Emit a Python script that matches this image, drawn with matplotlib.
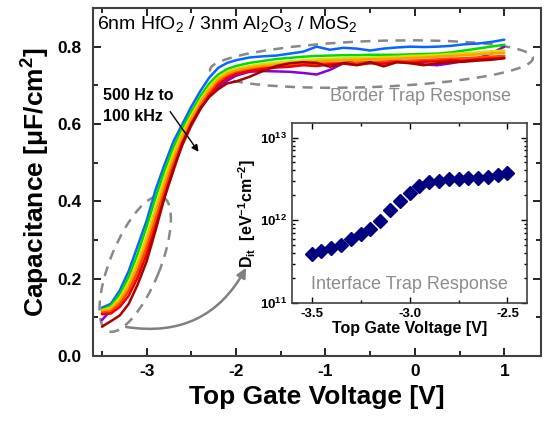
import numpy as np
import matplotlib
matplotlib.use('Agg')
import matplotlib.pyplot as plt
from matplotlib.patches import Ellipse, FancyArrowPatch
from matplotlib.transforms import ScaledTranslation
from matplotlib.ticker import MultipleLocator, FixedLocator, FixedFormatter, LogLocator, NullFormatter

plt.rcParams['font.family'] = ['Liberation Sans', 'DejaVu Sans']
plt.rcParams['font.weight'] = 'bold'
plt.rcParams['axes.labelweight'] = 'bold'
plt.rcParams['axes.unicode_minus'] = False
plt.rcParams['mathtext.fontset'] = 'custom'
plt.rcParams['mathtext.rm'] = 'Liberation Sans:weight=normal'
plt.rcParams['mathtext.bf'] = 'Liberation Sans:bold'
plt.rcParams['mathtext.it'] = 'Liberation Sans:italic'

# gate voltage grid of the C-V sweeps
voltage = [-3.5, -3.4, -3.3, -3.2, -3.1, -3.0, -2.9, -2.8, -2.7, -2.6, -2.5, -2.4,
           -2.3, -2.2, -2.1, -2.0, -1.85, -1.7, -1.55, -1.4, -1.25, -1.1, -0.95, -0.8,
           -0.65, -0.5, -0.35, -0.2, -0.05, 0.1, 0.25, 0.4, 0.55, 0.7, 0.85, 1.0]

# capacitance per frequency (500 Hz -> 100 kHz)
c_purple = [0.093, 0.118, 0.14, 0.17, 0.225, 0.29, 0.36, 0.43, 0.50, 0.555, 0.60, 0.64,
            0.672, 0.695, 0.712, 0.725, 0.735, 0.737, 0.736, 0.735, 0.732, 0.728, 0.74, 0.757,
            0.768, 0.77, 0.768, 0.765, 0.76, 0.754, 0.752, 0.757, 0.763, 0.77, 0.782, 0.80]
c_blue = [0.125, 0.135, 0.17, 0.22, 0.285, 0.35, 0.43, 0.495, 0.555, 0.60, 0.645, 0.685,
          0.72, 0.745, 0.758, 0.765, 0.772, 0.775, 0.777, 0.782, 0.787, 0.80, 0.792, 0.797,
          0.795, 0.79, 0.795, 0.798, 0.80, 0.799, 0.80, 0.802, 0.806, 0.808, 0.812, 0.818]
c_green = [0.12, 0.13, 0.16, 0.205, 0.265, 0.335, 0.41, 0.48, 0.54, 0.59, 0.632, 0.672,
           0.705, 0.728, 0.742, 0.75, 0.758, 0.763, 0.768, 0.771, 0.774, 0.776, 0.777, 0.778,
           0.778, 0.779, 0.779, 0.779, 0.78, 0.781, 0.782, 0.785, 0.79, 0.795, 0.80, 0.805]
c_yellow = [0.118, 0.125, 0.15, 0.19, 0.245, 0.31, 0.385, 0.46, 0.525, 0.578, 0.622, 0.662,
            0.695, 0.72, 0.735, 0.743, 0.75, 0.755, 0.759, 0.762, 0.765, 0.767, 0.769, 0.77,
            0.771, 0.772, 0.773, 0.774, 0.776, 0.777, 0.779, 0.781, 0.783, 0.785, 0.788, 0.79]
c_orange = [0.116, 0.12, 0.142, 0.18, 0.232, 0.295, 0.37, 0.445, 0.512, 0.568, 0.614, 0.655,
            0.688, 0.714, 0.73, 0.738, 0.745, 0.75, 0.754, 0.757, 0.76, 0.762, 0.764, 0.765,
            0.766, 0.767, 0.768, 0.769, 0.771, 0.772, 0.774, 0.776, 0.778, 0.78, 0.782, 0.784]
c_orangered = [0.112, 0.115, 0.135, 0.168, 0.218, 0.28, 0.352, 0.428, 0.498, 0.556, 0.604, 0.646,
               0.68, 0.707, 0.724, 0.733, 0.74, 0.745, 0.748, 0.751, 0.754, 0.756, 0.757, 0.758,
               0.759, 0.76, 0.761, 0.762, 0.764, 0.765, 0.767, 0.769, 0.77, 0.772, 0.774, 0.776]
c_red = [0.108, 0.11, 0.127, 0.156, 0.203, 0.263, 0.335, 0.412, 0.485, 0.546, 0.596, 0.638,
         0.673, 0.701, 0.719, 0.729, 0.737, 0.742, 0.746, 0.748, 0.752, 0.75, 0.754, 0.756,
         0.753, 0.757, 0.756, 0.76, 0.758, 0.761, 0.762, 0.765, 0.764, 0.767, 0.769, 0.771]
c_darkred = [0.076, 0.09, 0.105, 0.135, 0.185, 0.245, 0.325, 0.41, 0.48, 0.55, 0.60, 0.64,
             0.67, 0.69, 0.705, 0.71, 0.722, 0.737, 0.75, 0.757, 0.76, 0.758, 0.748, 0.758,
             0.752, 0.76, 0.749, 0.76, 0.757, 0.752, 0.757, 0.76, 0.761, 0.764, 0.766, 0.77]

curves = [c_purple, c_blue, c_green, c_yellow, c_orange, c_orangered, c_red, c_darkred]
colors = ['#8a00d4', '#0a64ff', '#00dc00', '#d8e000', '#ffa000', '#ff4a00', '#f00000', '#a80000']

# inset: interface trap density
dit_v = [-3.5, -3.45, -3.4, -3.35, -3.3, -3.25, -3.2, -3.15, -3.1, -3.05, -3.0,
         -2.95, -2.9, -2.85, -2.8, -2.75, -2.7, -2.65, -2.6, -2.55, -2.5]
dit = [3.96e11, 4.2e11, 4.6e11, 5.0e11, 6.0e11, 6.9e11, 7.9e11, 9.8e11, 1.34e12, 1.72e12, 2.15e12,
       2.57e12, 2.9e12, 3.0e12, 3.14e12, 3.19e12, 3.22e12, 3.28e12, 3.37e12, 3.5e12, 3.74e12]

fig = plt.figure(figsize=(5.49, 4.21), dpi=100)
ax = fig.add_axes([0.1694, 0.1544, 0.816, 0.8266])

for c, col in zip(curves, colors):
    ax.plot(voltage, c, color=col, lw=1.8, solid_capstyle='round')

ax.set_xlim(-3.6, 1.41)
ax.set_ylim(0, 0.9)
ax.xaxis.set_major_locator(MultipleLocator(1))
ax.xaxis.set_minor_locator(MultipleLocator(0.5))
ax.yaxis.set_major_locator(MultipleLocator(0.2))
ax.yaxis.set_minor_locator(MultipleLocator(0.1))
ax.yaxis.set_major_formatter(plt.FormatStrFormatter('%.1f'))
ax.tick_params(which='both', direction='in', top=True, right=True, labelsize=12.5, width=1.2)
ax.tick_params(which='major', length=6)
ax.tick_params(which='minor', length=3.5)
ax.tick_params(axis='y', pad=8)
ax.tick_params(axis='x', pad=6)
for sp in ax.spines.values():
    sp.set_linewidth(1.5)
    sp.set_color('#404040')
ax.set_xlabel('Top Gate Voltage [V]', fontsize=19, fontweight='bold', labelpad=4)
ax.set_ylabel('Capacitance [μF/cm$^\\mathbf{2}$]', fontsize=19, fontweight='bold', labelpad=4)

ax.text(0.009, 0.939, '6nm HfO$_2$ / 3nm Al$_2$O$_3$ / MoS$_2$', transform=ax.transAxes,
        fontsize=14, fontweight='normal', va='baseline', ha='left')
ax.text(-3.486, 0.662, '500 Hz to', fontsize=11.5, va='baseline', ha='left')
ax.text(-3.486, 0.608, '100 kHz', fontsize=11.5, va='baseline', ha='left')
ax.annotate('', xy=(-2.42, 0.528), xytext=(-2.737, 0.632),
            arrowprops=dict(arrowstyle='-|>', color='k', lw=1.0, mutation_scale=10,
                            shrinkA=0, shrinkB=0))
ax.text(0.06, 0.672, 'Border Trap Response', fontsize=13, fontweight='normal',
        color='#8c8c8c', va='center', ha='center')

# dashed ellipses (sized in inches, centred in data coords)
e1 = Ellipse((0, 0), 3.23, 0.46, angle=2.1, fill=False, ec='#888888', lw=1.8, ls=(0, (4, 3)),
             transform=fig.dpi_scale_trans + ScaledTranslation(-0.486, 0.755, ax.transData))
e2 = Ellipse((0, 0), 1.45, 0.5, angle=68, fill=False, ec='#888888', lw=1.8, ls=(0, (4, 3)),
             transform=fig.dpi_scale_trans + ScaledTranslation(-3.128, 0.238, ax.transData))
e1.set_clip_on(False)
e2.set_clip_on(False)
ax.add_patch(e1)
ax.add_patch(e2)

arr = FancyArrowPatch((-3.229, 0.075), (-1.888, 0.228), connectionstyle='arc3,rad=0.35',
                      arrowstyle='-|>', mutation_scale=14, color='#808080', lw=1.8,
                      shrinkA=0, shrinkB=0)
ax.add_patch(arr)

# inset
ins = fig.add_axes([0.532, 0.2803, 0.428, 0.4276])
ins.semilogy(dit_v, dit, ls='none', marker='D', ms=7, color='#000080')
ins.set_xlim(-3.6, -2.4)
ins.set_ylim(1e11, 1.5e13)
ins.xaxis.set_major_locator(FixedLocator([-3.5, -3.0, -2.5]))
ins.xaxis.set_major_formatter(plt.FormatStrFormatter('%.1f'))
ins.xaxis.set_minor_locator(MultipleLocator(0.25))
ins.yaxis.set_major_locator(FixedLocator([1e11, 1e12, 1e13]))
ins.yaxis.set_major_formatter(FixedFormatter([r'$\mathbf{10^{11}}$', r'$\mathbf{10^{12}}$',
                                              r'$\mathbf{10^{13}}$']))
ins.yaxis.set_minor_locator(LogLocator(base=10, subs=np.arange(2, 10)))
ins.yaxis.set_minor_formatter(NullFormatter())
ins.tick_params(which='both', direction='in', top=True, right=True, labelsize=9.5, width=1)
ins.tick_params(which='major', length=4)
ins.tick_params(which='minor', length=2)
for sp in ins.spines.values():
    sp.set_linewidth(1.2)
    sp.set_color('#404040')
ins.set_xlabel('Top Gate Voltage [V]', fontsize=11.5, fontweight='bold', labelpad=1)
ins.set_ylabel(r'D$_{\mathbf{it}}$  [eV$^{\mathbf{-1}}$cm$^{\mathbf{-2}}$]', fontsize=11.5,
               fontweight='bold', labelpad=2)
ins.text(0.5, 0.1, 'Interface Trap Response', transform=ins.transAxes, fontsize=13,
         fontweight='normal', color='#8c8c8c', ha='center', va='center')

fig.savefig('out.png', dpi=100)
